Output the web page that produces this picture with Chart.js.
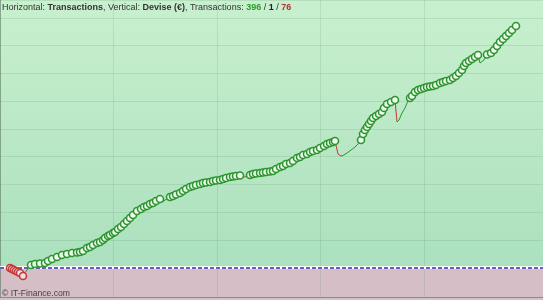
<!DOCTYPE html>
<html><head><meta charset="utf-8">
<script src="https://cdn.jsdelivr.net/npm/chart.js@4"></script>
<style>
html,body{margin:0;padding:0;background:#cfc3c8;}
#wrap{position:relative;width:543px;height:300px;overflow:hidden;}
#hdr{position:absolute;left:2px;top:2px;font-family:"Liberation Sans",Arial,sans-serif;font-size:9px;color:#333;white-space:nowrap;}
#hdr b{font-weight:bold;}
#wm{position:absolute;left:2px;top:288px;font-family:"Liberation Sans",Arial,sans-serif;font-size:8.6px;color:#444;white-space:nowrap;}
</style></head>
<body><div id="wrap"><canvas id="c" width="543" height="300"></canvas>
<div id="hdr">Horizontal: <b>Transactions</b>, Vertical: <b>Devise (€)</b>, Transactions: <b style="color:#2e9a2e">396</b> / <b style="color:#222">1</b> / <b style="color:#b03030">76</b></div>
<div id="wm">© IT-Finance.com</div></div>
<script>
// Transaction positions (horizontal) and equity values (vertical, €)
const trades = [0,2,4,6,8,10,13,17,21,25,30,35,38,42,47,52,57,62,67,70,73,77,80,83,87,90,93,95,98,100,103,105,108,111,114,117,120,123,127,131,134,137,140,143,146,150,152,156,160,163,166,170,173,176,180,183,186,190,193,196,200,203,206,210,213,216,220,223,226,230,235,238,240,243,246,250,253,256,260,263,266,270,273,276,280,283,287,290,293,297,300,303,307,310,314,317,320,323,325,328,331,333,337,341,345,348,351,353,355,357,359,361,363,366,369,372,374,377,381,385,387,389,392,395,397,400,402,405,408,411,414,417,420,423,426,430,433,436,440,443,446,449,452,454,456,459,462,465,468,470,474,477,481,484,487,490,493,496,499,502,506];
const equity = [0,-1,-2,-3,-4,-5,-8,-2,3,4,4.5,5,7,9,11,13,14,15,15.5,16,17,20,21,23,25,26,28,30,32,33,35,36,39,41,44,47,50,53,57,59,61,62,64,65,67,69,66,68.5,71,72,73.5,75,77,79,81,82,83,84,85,85.5,86,87,87.5,88,89,90,91,91.5,92,92.5,91,92,93,94,94.5,95,95.5,96,96.5,97,99,101,102,104,105,107,110,111,113,114,116,117,118,120,122,124,125,126,127,114,112,112.5,115,118,121,124,128,134,138,141,144,147,150,152,154,156,160,164,166,168,146,148,155,160,165,170,172,176,178,179,180,181,181.5,182,183,185,186,187,188,190,192,195,198,202,205,207,209,211,213,205,208,213.5,215,218,222,226,229,232,235,238,242];
const gridStepX = 103.5, gridStepY = 27.75;

const pts = trades.map((t,i)=>({x:t,y:equity[i]}));
const kind = []; let hi = 0, lo = 0;
equity.forEach((v,i)=>{
  if(i===0){kind.push('low');return;}
  if(v>hi){kind.push('high');hi=v;}
  else if(v<lo){kind.push('low');lo=v;}
  else kind.push('none');
});
const GREEN='#2b962e', RED='#c23a3a';

const bgPlugin={id:'bg',beforeDraw(ch){
  const {ctx,chartArea:a,scales:{y}}=ch; const y0=y.getPixelForValue(0);
  ctx.save();
  const g=ctx.createLinearGradient(0,a.top,0,y0);
  g.addColorStop(0,'rgb(200,240,206)'); g.addColorStop(1,'rgb(172,224,190)');
  ctx.fillStyle=g; ctx.fillRect(a.left,a.top,a.right-a.left,y0-a.top);
  ctx.fillStyle='rgb(213,190,198)'; ctx.fillRect(a.left,y0,a.right-a.left,a.bottom-y0);
  ctx.restore();
},beforeDatasetsDraw(ch){
  const {ctx,chartArea:a,scales:{y}}=ch; const y0=Math.round(y.getPixelForValue(0));
  ctx.save();
  ctx.strokeStyle='rgba(255,255,255,0.9)';ctx.lineWidth=1;
  ctx.beginPath();ctx.moveTo(a.left,y0-1.5);ctx.lineTo(a.right,y0-1.5);ctx.stroke();
  ctx.strokeStyle='#ffffff';ctx.lineWidth=2;
  ctx.beginPath();ctx.moveTo(a.left,y0);ctx.lineTo(a.right,y0);ctx.stroke();
  ctx.strokeStyle='#6c5cc4';ctx.setLineDash([4,2]);
  ctx.beginPath();ctx.moveTo(a.left,y0);ctx.lineTo(a.right,y0);ctx.stroke();
  ctx.restore();
}};

new Chart(document.getElementById('c'),{
  type:'line',
  data:{datasets:[{
    data:pts,
    borderColor:GREEN,borderWidth:1,tension:0,
    segment:{borderColor:c=>c.p1.parsed.y<c.p0.parsed.y?RED:GREEN},
    pointRadius:c=>kind[c.dataIndex]==='none'?0:3.5,
    pointBorderColor:c=>kind[c.dataIndex]==='low'?RED:GREEN,
    pointBackgroundColor:c=>kind[c.dataIndex]==='low'?'#f4dede':'#f2fbf2',
    pointBorderWidth:1.6
  }]},
  options:{
    responsive:false,animation:false,
    layout:{autoPadding:false,padding:{left:0,right:0,top:0,bottom:3}},
    plugins:{legend:{display:false},tooltip:{enabled:false},title:{display:false}},
    scales:{
      x:{type:'linear',min:-10,max:533,
        ticks:{display:false,stepSize:gridStepX},
        grid:{drawTicks:false,color:c=>c.tick.value===-10?'rgba(90,120,100,0.6)':'rgba(40,110,60,0.12)'},border:{display:false}},
      y:{type:'linear',min:-29,max:268,
        ticks:{display:false,stepSize:gridStepY},
        grid:{drawTicks:false,color:c=>{const v=c.tick.value; if(v===-29)return 'rgba(120,110,115,0.7)'; if(v<-1)return 'rgba(0,0,0,0)'; if(v===0)return 'rgba(0,0,0,0)'; return 'rgba(40,110,60,0.12)';}},border:{display:false}}
    }
  },
  plugins:[bgPlugin]
});
</script></body></html>
